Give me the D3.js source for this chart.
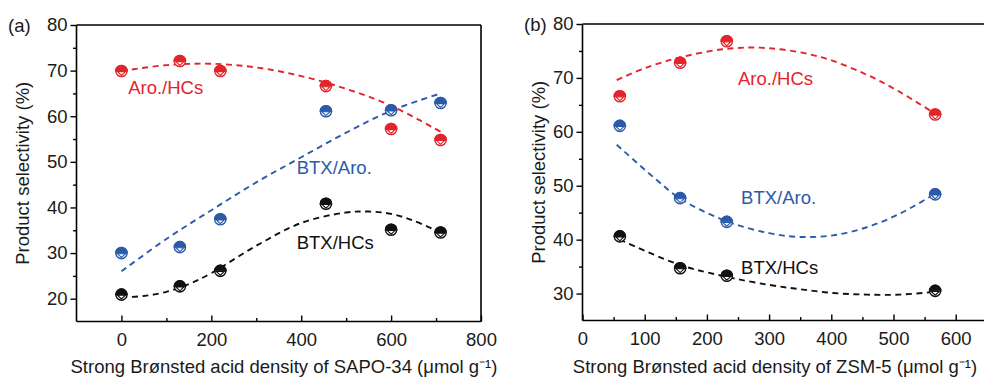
<!DOCTYPE html>
<html><head><meta charset="utf-8">
<script src="https://cdn.jsdelivr.net/npm/d3@7"></script>
<style>
html,body{margin:0;padding:0;background:#fff;overflow:hidden}
svg{display:block}
text{font-family:"Liberation Sans",Arial,sans-serif;}
</style></head>
<body>
<svg id="chart" width="984" height="378"></svg>
<script>
// ---------- Data ----------
// Panel (a): SAPO-34
const aX = [0, 130, 220, 455, 600, 710];
const aAroHCs = [69.9, 72.1, 69.9, 66.6, 57.2, 54.8];
const aBTXAro = [30.0, 31.3, 37.4, 61.1, 61.3, 62.9];
const aBTXHCs = [20.9, 22.7, 26.1, 40.8, 35.1, 34.5];
// fitted (dashed) curves: [x, y]
const aFitAroHCs = [[0,69.9],[100,71.2],[200,71.5],[300,70.7],[400,68.8],[500,66.0],[600,62.3],[710,56.6]];
const aFitBTXAro = [[0,26.0],[100,33.1],[200,39.4],[300,45.5],[400,51.0],[500,56.4],[600,61.2],[710,65.0]];
const aFitBTXHCs = [[0,20.3],[50,20.6],[100,21.5],[150,23.2],[200,25.6],[300,31.6],[400,36.6],[500,38.9],[550,39.1],[600,38.6],[650,37.1],[710,34.5]];

// Panel (b): ZSM-5
const bX = [60, 157, 232, 567];
const bAroHCs = [66.6, 72.8, 76.8, 63.2];
const bBTXAro = [61.1, 47.7, 43.3, 48.4];
const bBTXHCs = [40.6, 34.7, 33.3, 30.5];
const bFitAroHCs = [[55,69.6],[100,71.8],[157,73.8],[232,75.4],[300,75.5],[382,73.9],[457,70.6],[510,67.4],[565,63.5]];
const bFitBTXAro = [[55,57.6],[119,51.1],[157,47.6],[232,43.4],[300,41.2],[350,40.5],[403,40.8],[457,42.3],[510,44.8],[565,48.4]];
const bFitBTXHCs = [[60,40.0],[157,35.3],[232,33.1],[300,31.6],[350,30.8],[403,30.1],[457,29.8],[510,29.8],[565,30.3]];

// Ticks
const aXMajor = [0, 200, 400, 600, 800];
const aXMinor = [100, 300, 500, 700];
const aYMajor = [20, 30, 40, 50, 60, 70, 80];
const aYMinor = [25, 35, 45, 55, 65, 75];
const bXMajor = [0, 100, 200, 300, 400, 500, 600];
const bXMinor = [50, 150, 250, 350, 450, 550, 650];
const bYMajor = [30, 40, 50, 60, 70, 80];
const bYMinor = [35, 45, 55, 65, 75];

const seriesNames = ["Aro./HCs", "BTX/Aro.", "BTX/HCs"];
const colors = {"Aro./HCs": "#e3242b", "BTX/Aro.": "#2b5ba8", "BTX/HCs": "#111111"};

// ---------- Drawing ----------
const svg = d3.select("#chart");
const FS = 18.5;

function drawPanel(cfg) {
  const x = d3.scaleLinear().domain(cfg.xDomain).range([cfg.left, cfg.right]);
  const y = d3.scaleLinear().domain(cfg.yDomain).range([cfg.bottom, cfg.top]);
  const g = svg.append("g");

  // frame top/right
  g.append("line").attr("x1", cfg.left).attr("x2", cfg.right).attr("y1", cfg.top).attr("y2", cfg.top)
    .attr("stroke", "#000").attr("stroke-width", 1.6);
  g.append("line").attr("x1", cfg.right).attr("x2", cfg.right).attr("y1", cfg.top).attr("y2", cfg.bottom)
    .attr("stroke", "#000").attr("stroke-width", 1.6);

  // x axis (ticks inward)
  const xAxis = g.append("g").attr("transform", `translate(0,${cfg.bottom})`)
    .call(d3.axisBottom(x).tickValues(cfg.xMajor).tickSize(-6).tickPadding(11).tickFormat(d3.format("d")));
  g.append("g").attr("transform", `translate(0,${cfg.bottom})`)
    .call(d3.axisBottom(x).tickValues(cfg.xMinor).tickSize(-3.5).tickFormat(""))
    .call(s => s.select(".domain").remove());
  // y axis (ticks outward)
  const yAxis = g.append("g").attr("transform", `translate(${cfg.left},0)`)
    .call(d3.axisLeft(y).tickValues(cfg.yMajor).tickSize(6).tickPadding(3).tickFormat(d3.format("d")));
  g.append("g").attr("transform", `translate(${cfg.left},0)`)
    .call(d3.axisLeft(y).tickValues(cfg.yMinor).tickSize(3.5).tickFormat(""))
    .call(s => s.select(".domain").remove());

  g.selectAll(".domain").attr("stroke", "#000").attr("stroke-width", 1.6);
  g.selectAll(".tick line").attr("stroke", "#000").attr("stroke-width", 1.4);
  g.selectAll(".tick text").attr("font-size", FS).attr("fill", "#1a1a1a")
    .attr("font-family", "'Liberation Sans', Arial, sans-serif");
  xAxis.selectAll(".domain").attr("d", `M${cfg.left},0H${cfg.right}`);
  yAxis.selectAll(".domain").attr("d", `M0,${cfg.bottom}V${cfg.top}`);

  // axis titles
  g.append("text").attr("x", (cfg.titleX)).attr("y", 373).attr("text-anchor", "middle")
    .attr("font-size", FS).attr("fill", "#1a1a1a").text(cfg.xTitle);
  g.append("text").attr("transform", `translate(${cfg.yTitleX},${(cfg.top + cfg.bottom) / 2}) rotate(-90)`)
    .attr("text-anchor", "middle").attr("font-size", FS).attr("fill", "#1a1a1a").text("Product selectivity (%)");
  g.append("text").attr("x", cfg.panelLabelX).attr("y", cfg.top + 7).attr("font-size", FS)
    .attr("fill", "#1a1a1a").text(cfg.panelLabel);

  // fit curves
  const line = d3.line().x(d => x(d[0])).y(d => y(d[1])).curve(d3.curveCatmullRom.alpha(0.5));
  cfg.series.forEach(s => {
    g.append("path").attr("d", line(s.fit)).attr("fill", "none").attr("stroke", colors[s.name])
      .attr("stroke-width", 1.9).attr("stroke-dasharray", "6,4.5");
  });

  // markers
  const r = 5.6;
  cfg.series.forEach(s => {
    const c = colors[s.name];
    s.values.forEach((v, i) => {
      const m = g.append("g").attr("transform", `translate(${x(cfg.xs[i])},${y(v)})`);
      m.append("circle").attr("r", r).attr("fill", "#fff").attr("stroke", c).attr("stroke-width", 1.4);
      m.append("path").attr("d", `M${-r},0A${r},${r} 0 0 1 ${r},0Z`).attr("fill", c).attr("stroke", c).attr("stroke-width", 1.4);
      m.append("path").attr("d", `M${-4},0.6L4,0.6L0,${r - 1.2}Z`).attr("fill", "#fff").attr("stroke", c).attr("stroke-width", 1.1);
    });
  });

  // series labels
  cfg.labels.forEach(l => {
    g.append("text").attr("x", x(l.x)).attr("y", y(l.y)).attr("font-size", FS)
      .attr("fill", colors[l.name]).attr("dominant-baseline", "middle").text(l.name);
  });
}

drawPanel({
  xDomain: [-100, 800], yDomain: [15, 80],
  left: 76.5, right: 481, top: 25, bottom: 321.5,
  xMajor: aXMajor, xMinor: aXMinor, yMajor: aYMajor, yMinor: aYMinor,
  xTitle: "Strong Brønsted acid density of SAPO-34 (μmol g\u207B\u00B9)", titleX: 284,
  yTitleX: 29, panelLabel: "(a)", panelLabelX: 8,
  xs: aX,
  series: [
    {name: "Aro./HCs", values: aAroHCs, fit: aFitAroHCs},
    {name: "BTX/Aro.", values: aBTXAro, fit: aFitBTXAro},
    {name: "BTX/HCs", values: aBTXHCs, fit: aFitBTXHCs}
  ],
  labels: [
    {name: "Aro./HCs", x: 15, y: 65.9},
    {name: "BTX/Aro.", x: 390, y: 48.4},
    {name: "BTX/HCs", x: 390, y: 32.0}
  ]
});

drawPanel({
  xDomain: [0, 650], yDomain: [25, 80],
  left: 582.5, right: 986.8, top: 24, bottom: 320.5,
  xMajor: bXMajor, xMinor: bXMinor, yMajor: bYMajor, yMinor: bYMinor,
  xTitle: "Strong Brønsted acid density of ZSM-5 (μmol g\u207B\u00B9)", titleX: 775,
  yTitleX: 545, panelLabel: "(b)", panelLabelX: 524,
  xs: bX,
  series: [
    {name: "Aro./HCs", values: bAroHCs, fit: bFitAroHCs},
    {name: "BTX/Aro.", values: bBTXAro, fit: bFitBTXAro},
    {name: "BTX/HCs", values: bBTXHCs, fit: bFitBTXHCs}
  ],
  labels: [
    {name: "Aro./HCs", x: 250, y: 69.5},
    {name: "BTX/Aro.", x: 255, y: 47.5},
    {name: "BTX/HCs", x: 255, y: 34.6}
  ]
});
</script>
</body></html>
